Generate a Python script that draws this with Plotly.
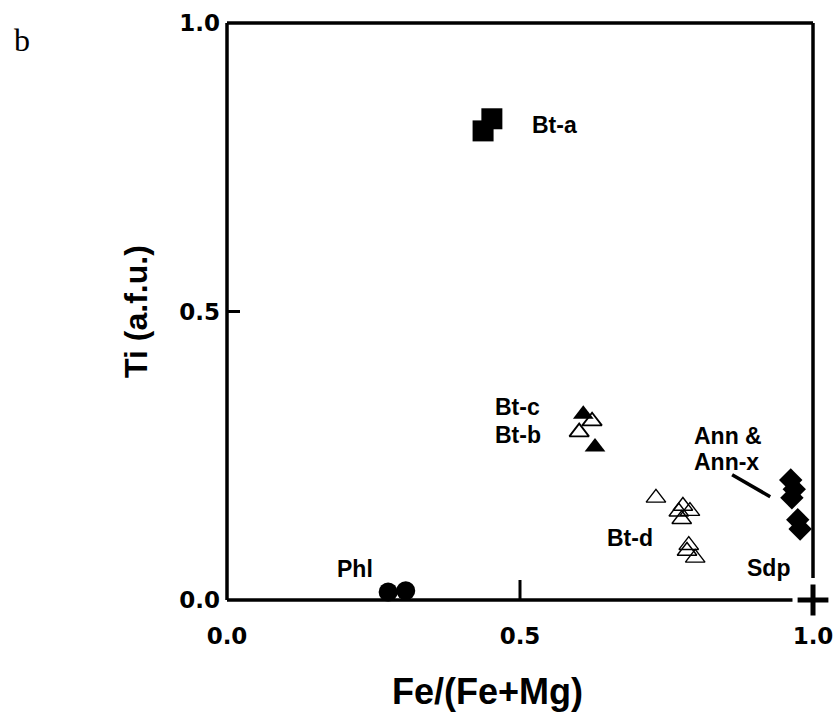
import plotly.graph_objects as go

# Fe/(Fe+Mg) versus Ti (atoms per formula unit) for each mica group
bt_a_x = [0.437, 0.452]
bt_a_y = [0.813, 0.834]

bt_cb_filled_x = [0.608, 0.628]
bt_cb_filled_y = [0.322, 0.265]
bt_cb_open_x = [0.623, 0.601]
bt_cb_open_y = [0.310, 0.291]

bt_d_x = [0.732, 0.778, 0.790, 0.771, 0.776, 0.788, 0.785, 0.799]
bt_d_y = [0.177, 0.163, 0.154, 0.153, 0.140, 0.095, 0.085, 0.073]

ann_x = [0.962, 0.968, 0.964, 0.974, 0.978]
ann_y = [0.208, 0.192, 0.177, 0.139, 0.123]

phl_x = [0.275, 0.305]
phl_y = [0.014, 0.016]

sdp_x = [1.0]
sdp_y = [0.0]

# leader from the "Ann & Ann-x" label to the diamonds
ann_leader_x = [0.862, 0.927]
ann_leader_y = [0.217, 0.179]

# axis ticks
tick_vals = [0.0, 0.5, 1.0]
tick_text = ["0.0", "0.5", "1.0"]
tick_marks = [0.5]

# group labels: text, left x, middle y
group_labels = [
    ("Bt-a", 0.517, 0.823),
    ("Bt-c", 0.454, 0.334),
    ("Bt-b", 0.454, 0.286),
    ("Ann &", 0.794, 0.284),
    ("Ann-x", 0.794, 0.239),
    ("Bt-d", 0.645, 0.107),
    ("Sdp", 0.884, 0.055),
    ("Phl", 0.184, 0.054),
]

BLACK = "black"
LABEL_FONT = dict(family="Liberation Sans, Arial, sans-serif", size=23, color=BLACK, weight="bold")
TICK_FONT = dict(family="DejaVu Sans, sans-serif", size=23, color=BLACK, weight="bold")
TITLE_FONT = dict(family="Liberation Sans, Arial, sans-serif", size=32, color=BLACK, weight="bold")

fig = go.Figure()


def add_points(xs, ys, symbol, size, line_width=0):
    fig.add_trace(go.Scatter(
        x=xs, y=ys, mode="markers", cliponaxis=False, showlegend=False,
        marker=dict(symbol=symbol, size=size, color=BLACK,
                    line=dict(color=BLACK, width=line_width)),
    ))


add_points(bt_a_x, bt_a_y, "square", 21)
add_points(bt_cb_filled_x, bt_cb_filled_y, "triangle-up", 18)
add_points(bt_cb_open_x, bt_cb_open_y, "triangle-up-open", 17, 1.8)
add_points(bt_d_x, bt_d_y, "triangle-up-open", 17, 1.4)
add_points(ann_x, ann_y, "diamond", 18)
add_points(phl_x, phl_y, "circle", 19)
add_points(sdp_x, sdp_y, "cross-thin", 22, 5)

fig.add_trace(go.Scatter(
    x=ann_leader_x, y=ann_leader_y, mode="lines", showlegend=False,
    line=dict(color=BLACK, width=3.5),
))

for text, x, y in group_labels:
    fig.add_annotation(x=x, y=y, xref="x", yref="y", text=text, showarrow=False,
                       xanchor="left", yanchor="middle", font=LABEL_FONT)

# panel letter, top-left corner of the page
fig.add_annotation(x=-0.367, y=0.97, xref="paper", yref="paper", xanchor="left", yanchor="middle",
                   text="b", showarrow=False,
                   font=dict(family="Liberation Serif, Times New Roman, serif", size=32, color=BLACK))

# x-axis title, set slightly left of centre
fig.add_annotation(x=0.445, y=-0.159, xref="paper", yref="paper", xanchor="center", yanchor="middle",
                   text="Fe/(Fe+Mg)", showarrow=False,
                   font=dict(family="Liberation Sans, Arial, sans-serif", size=36, color=BLACK,
                             weight="bold"))

# frame: the bottom and right edges stop short of the Sdp corner point
frame = [
    (0, 0, 0, 1),
    (0, 1, 1, 1),
    (1, 0.038, 1, 1),
    (0, 0, 0.965, 0),
]
for x0, y0, x1, y1 in frame:
    fig.add_shape(type="line", xref="x domain", yref="y domain", x0=x0, y0=y0, x1=x1, y1=y1,
                  line=dict(color=BLACK, width=3.5), layer="above")

# inward tick marks at the mid values
for v in tick_marks:
    fig.add_shape(type="line", xref="x", yref="y", x0=v, x1=v, ysizemode="pixel", yanchor=0,
                  y0=0, y1=20, line=dict(color=BLACK, width=3))
    fig.add_shape(type="line", xref="x", yref="y", y0=v, y1=v, xsizemode="pixel", xanchor=0,
                  x0=0, x1=13, line=dict(color=BLACK, width=3))

fig.update_layout(
    width=834, height=713,
    margin=dict(l=227, r=21, t=23, b=113),
    paper_bgcolor="white", plot_bgcolor="white",
    xaxis=dict(range=[0, 1], tickvals=tick_vals, ticktext=tick_text, ticks="",
               showgrid=False, zeroline=False, showline=False, tickfont=TICK_FONT,
               ticklabelstandoff=20, automargin=False),
    yaxis=dict(range=[0, 1], tickvals=tick_vals, ticktext=tick_text, ticks="",
               showgrid=False, zeroline=False, showline=False, tickfont=TICK_FONT,
               ticklabelstandoff=6, automargin=False,
               title=dict(text="Ti (a.f.u.)", font=TITLE_FONT, standoff=22)),
)

fig.write_html("out.html")
